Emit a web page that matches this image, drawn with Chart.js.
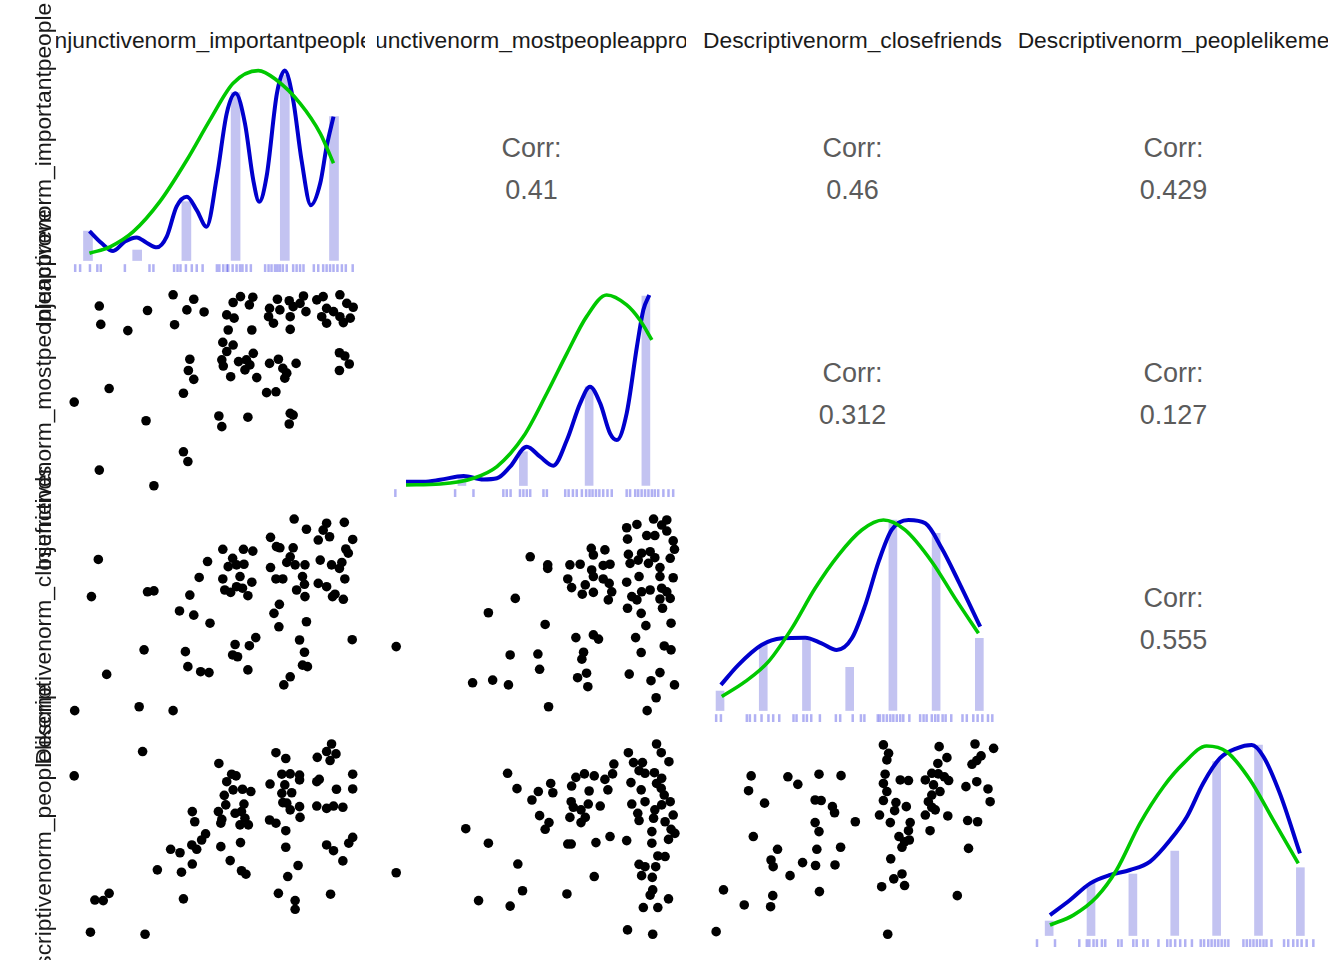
<!DOCTYPE html>
<html>
<head>
<meta charset="utf-8">
<script src="https://cdn.jsdelivr.net/npm/chart.js@4.4.0/dist/chart.umd.min.js"></script>
<style>
  html, body { margin: 0; padding: 0; background: #fff; }
  #wrap { position: relative; width: 1344px; height: 960px; overflow: hidden;
          font-family: "Liberation Sans", Arial, sans-serif; }
  #wrap canvas { position: absolute; }
  .strip { position: absolute; top: 26px; height: 28px; overflow: hidden; }
  .strip span { position: absolute; left: 50%; top: 0; transform: translateX(-50%);
                white-space: nowrap; font-size: 22.8px; line-height: 28px; color: #1a1a1a; }
  .rowlab { position: absolute; width: 500px; height: 28px; line-height: 28px; text-align: center;
            white-space: nowrap; font-size: 22.8px; color: #1a1a1a; transform: rotate(-90deg); }
  .corr { position: absolute; width: 200px; text-align: center; font-size: 27px; line-height: 30px; color: #5b5b5b; }
</style>
</head>
<body>
<div id="wrap"></div>
<script>
// variable names (strip labels)
const varNames = [
  'Injunctivenorm_importantpeople',
  'Injunctivenorm_mostpeopleapprove',
  'Descriptivenorm_closefriends',
  'Descriptivenorm_peoplelikeme'
];

// correlations in the upper triangle: [row, col, text]
const corrCells = [[0, 1, '0.41'], [0, 2, '0.46'], [0, 3, '0.429'],
                   [1, 2, '0.312'], [1, 3, '0.127'], [2, 3, '0.555']];

// scale limits of each variable (jittered values, with padding)
const varMin = [0.35, 0.34, 0.49, 0.28];
const varMax = [6.63, 7.58, 7.64, 7.66];

// histogram bars on the diagonal (bin centre, relative height)
const bars1X = [1, 2, 3, 4, 5, 6];
const bars1Y = [15.4, 5.5, 30.8, 87.9, 97, 75.3];
const bars2X = [2.33, 3.77, 5.31, 6.64];
const bars2Y = [5, 17.7, 51.7, 99.2];
const bars3X = [1, 2, 3, 4, 5, 6, 7];
const bars3Y = [10.2, 34.6, 36.9, 22.6, 99.7, 92.8, 37.8];
const bars4X = [1, 2, 3, 4, 5, 6, 7];
const bars4Y = [7.6, 27.3, 32.2, 44.2, 91, 99.7, 35.5];

// blue density (narrow bandwidth)
const blue1X = [1.03, 1.28, 1.51, 1.75, 1.99, 2.19, 2.40, 2.60, 2.80, 3.01, 3.21, 3.41, 3.62, 3.82, 4.0, 4.19, 4.36, 4.48, 4.63, 4.84, 5.0, 5.17, 5.34, 5.53, 5.72, 5.85, 5.99];
const blue1Y = [15.4, 9.0, 5.0, 9.9, 12.1, 9.3, 6.9, 12.5, 28.2, 33.4, 26.4, 17.7, 43.9, 77, 87.5, 71.8, 42, 30.8, 44, 87.5, 99.4, 84, 52.6, 29, 40.4, 59.6, 75.3];
const blue2X = [1.02, 1.43, 1.82, 2.37, 2.83, 3.15, 3.46, 3.85, 4.16, 4.47, 4.79, 5.10, 5.33, 5.57, 5.80, 5.96, 6.19, 6.43, 6.58, 6.72];
const blue2Y = [2, 2, 3, 5, 3.2, 3.8, 9.9, 20.3, 15.1, 10.4, 23.8, 43, 51.7, 43, 27.3, 23.8, 37.8, 72.7, 91.9, 99.7];
const blue3X = [1.02, 1.42, 1.96, 2.43, 2.97, 3.35, 3.70, 4.05, 4.36, 4.67, 4.97, 5.36, 5.75, 6.13, 6.52, 7.02];
const blue3Y = [13.4, 23.8, 34.3, 37.8, 38.1, 35.2, 31.7, 37.8, 55.2, 77.9, 94.5, 99.7, 98, 84.9, 67.5, 43.9];
const blue4X = [1.02, 1.50, 1.98, 2.46, 2.93, 3.41, 3.89, 4.29, 4.68, 5.08, 5.48, 5.84, 6.12, 6.51, 6.99];
const blue4Y = [10.7, 18.6, 27.3, 31.7, 34.3, 38.7, 50, 62.2, 79.7, 92.8, 98, 99.7, 93.6, 74.4, 43];

// green density (smooth)
const green1X = [1.03, 1.45, 1.92, 2.46, 3.01, 3.48, 3.95, 4.46, 4.83, 5.31, 5.72, 5.99];
const green1Y = [3.8, 7.2, 15.1, 30.8, 52.6, 73.6, 92.8, 99.4, 94.5, 82.3, 66.6, 50.9];
const green2X = [1.02, 1.82, 2.60, 3.15, 3.77, 4.32, 4.79, 5.25, 5.72, 6.19, 6.50, 6.78];
const green2Y = [0.3, 0.8, 3.8, 9.9, 25.6, 48.3, 69.2, 88.4, 99.7, 94.5, 86.6, 76.2];
const green3X = [1.04, 1.58, 2.12, 2.66, 3.20, 3.74, 4.28, 4.78, 5.28, 5.90, 6.44, 6.98];
const green3Y = [7.3, 15.1, 25.6, 43, 64, 81.4, 94.5, 99.7, 94.5, 77.9, 58.7, 40.4];
const green4X = [1.02, 1.58, 2.14, 2.61, 3.17, 3.73, 4.21, 4.76, 5.24, 5.80, 6.35, 6.95];
const green4Y = [5.5, 10.7, 20.3, 34.3, 58.7, 77.9, 90.1, 99.2, 96.2, 81.4, 60.5, 37.8];

// rug marks under each density
const rug1 = [0.74, 0.84, 1.04, 1.19, 1.26, 1.75, 2.25, 2.33, 2.75, 2.82, 2.88, 2.99, 3.11, 3.21, 3.33, 3.62, 3.67, 3.75, 3.82, 3.85, 3.94, 4.02, 4.09, 4.14, 4.22, 4.31, 4.60, 4.67, 4.73, 4.80, 4.85, 4.90, 4.96, 5.04, 5.17, 5.24, 5.31, 5.38, 5.59, 5.68, 5.78, 5.85, 5.92, 5.99, 6.07, 6.16, 6.24, 6.38];
const rug2 = [0.77, 2.17, 2.60, 3.30, 3.38, 3.47, 3.69, 3.77, 3.85, 3.93, 4.24, 4.32, 4.75, 4.83, 4.93, 5.02, 5.14, 5.24, 5.32, 5.39, 5.47, 5.55, 5.64, 5.74, 5.84, 6.19, 6.27, 6.39, 6.46, 6.54, 6.62, 6.70, 6.78, 6.85, 6.93, 7.05, 7.17, 7.28];
const rug3 = [0.91, 1.02, 1.62, 1.69, 1.81, 1.96, 2.12, 2.23, 2.37, 2.70, 2.77, 2.93, 3.01, 3.11, 3.31, 3.68, 3.78, 4.07, 4.26, 4.34, 4.65, 4.70, 4.78, 4.86, 4.94, 5.01, 5.09, 5.17, 5.24, 5.38, 5.63, 5.71, 5.78, 5.90, 5.98, 6.05, 6.15, 6.22, 6.35, 6.61, 6.71, 6.86, 6.96, 7.07, 7.20, 7.30];
const rug4 = [0.71, 1.14, 1.72, 1.90, 1.96, 2.06, 2.14, 2.26, 2.34, 2.65, 2.73, 3.01, 3.09, 3.25, 3.35, 3.61, 3.82, 3.90, 4.01, 4.13, 4.25, 4.41, 4.62, 4.70, 4.80, 4.88, 4.96, 5.04, 5.12, 5.20, 5.28, 5.64, 5.72, 5.80, 5.88, 5.96, 6.04, 6.12, 6.19, 6.31, 6.61, 6.71, 6.83, 6.93, 7.03, 7.15, 7.31];

// jittered scatter points [x, y], named by row and column
const pts21 = [[2.73,7.18],[3.15,7.03],[1.23,6.80],[2.21,6.65],[3.01,6.67],[3.36,6.60],[1.26,6.18],[1.81,5.97],[2.76,6.17],
  [3.95,6.92],[4.10,7.12],[4.35,7.10],[4.28,6.84],[3.82,6.50],[3.97,6.39],[3.85,5.99],[4.33,5.99],
  [4.85,7.03],[5.09,6.98],[5.38,7.14],[4.69,6.72],[4.90,6.67],[5.17,6.78],[5.43,6.61],[4.77,6.22],[5.11,6.44],[5.31,6.89],[5.11,6.01],[4.67,6.44],
  [5.65,7.01],[5.78,7.12],[6.12,7.18],[5.85,6.72],[6.26,6.89],[6.39,6.76],[5.75,6.44],[5.85,6.22],[6.12,6.44],[6.33,6.39],[6.19,6.24],[5.99,6.61],
  [3.74,5.57],[3.95,5.48],[3.82,5.26],[3.72,4.98],[3.75,4.77],[4.06,4.92],[4.22,4.98],[4.36,5.20],[4.19,4.64],[4.29,4.81],[3.90,4.41],[4.43,4.38],
  [4.69,4.86],[4.87,5.00],[4.96,4.69],[5.04,4.53],[5.23,4.86],[5.00,4.36],
  [6.11,5.22],[6.22,5.11],[6.31,4.84],[6.11,4.62],
  [3.07,5.00],[3.04,4.62],[3.15,4.32],[2.94,3.85],[4.63,3.87],[4.82,3.90],[1.43,4.01],[0.72,3.55],[2.18,2.92],
  [3.66,3.08],[3.72,2.72],[4.25,3.04],[5.11,3.17],[5.17,3.11],[5.09,2.81],[2.94,1.87],[3.03,1.54],[1.23,1.25],[2.34,0.72]];

const pts31 = [[5.19,7.27],[5.44,6.93],[5.85,7.13],[6.21,7.16],[5.78,6.90],[5.91,6.68],[5.68,6.57],[6.38,6.59],[4.71,6.66],
  [4.83,6.35],[4.90,6.31],[5.17,6.31],[6.24,6.27],[6.29,6.13],[3.74,6.26],[4.16,6.26],[4.35,6.20],[1.21,5.92],
  [3.43,5.85],[3.94,5.96],[3.85,5.68],[4.02,5.74],[4.17,5.76],[4.71,5.65],[5.11,6.01],[5.04,5.82],[5.21,5.74],
  [5.41,5.74],[5.72,5.90],[5.95,5.74],[6.16,5.82],[6.11,5.62],[3.26,5.32],[3.74,5.27],[4.09,5.35],[4.33,5.16],
  [4.82,5.27],[4.96,5.27],[5.36,5.35],[5.40,5.09],[5.24,4.90],[5.68,5.12],[5.85,5.01],[6.22,5.27],[1.07,4.68],
  [2.21,4.84],[2.34,4.87],[3.07,4.73],[3.78,4.90],[3.90,4.82],[4.02,5.01],[4.14,4.96],[4.25,4.71],[5.41,4.68],
  [6.02,4.76],[6.19,4.59],[5.97,4.68],[2.86,4.20],[3.15,4.06],[3.48,3.79],[4.89,4.42],[4.78,4.12],[4.88,3.67],
  [5.44,3.84],[2.14,2.90],[2.98,2.84],[3.99,3.08],[4.28,3.04],[4.41,3.31],[3.94,2.73],[4.04,2.67],[5.30,3.23],
  [5.40,2.82],[6.37,3.24],[3.03,2.34],[3.29,2.17],[3.46,2.14],[4.25,2.23],[5.36,2.39],[5.46,2.34],[5.11,2.00],
  [4.98,1.73],[1.38,2.08],[0.73,0.87],[2.04,1.00],[2.73,0.87]];

const pts32 = [[6.82,7.27],[7.13,7.24],[7.01,7.07],[7.13,6.87],[6.19,6.98],[6.43,7.09],[6.21,6.60],[6.66,6.72],[6.85,6.72],
  [7.28,6.54],[7.31,6.26],[5.36,6.29],[5.41,6.07],[5.68,6.24],[3.93,6.01],[4.34,5.74],[4.34,5.62],[4.86,5.74],
  [5.10,5.76],[5.37,5.57],[5.64,5.72],[5.80,5.76],[6.23,6.09],[6.54,6.13],[6.74,6.18],[6.27,5.79],[6.46,5.90],
  [6.70,5.79],[6.85,5.98],[7.21,5.96],[6.97,5.65],[4.81,5.27],[4.90,4.98],[5.22,5.07],[5.41,5.35],[5.64,5.27],
  [5.78,5.12],[5.84,4.84],[5.41,4.82],[5.15,4.76],[5.76,4.57],[6.19,5.16],[6.48,5.35],[6.97,5.35],[7.28,5.31],
  [6.74,4.90],[6.54,4.84],[6.31,4.68],[6.43,4.57],[6.21,4.29],[7.01,4.96],[7.13,4.84],[7.21,4.62],[6.97,4.60],
  [3.58,4.62],[2.95,4.14],[4.28,3.75],[7.03,4.29],[6.53,4.12],[6.64,3.71],[7.23,3.79],[0.79,3.01],[5.00,3.31],
  [5.41,3.40],[5.53,3.26],[6.40,3.31],[3.46,2.73],[4.11,2.76],[5.18,2.82],[5.14,2.59],[6.53,2.81],[7.07,3.03],
  [7.23,2.90],[4.15,2.25],[2.58,1.80],[3.05,1.89],[3.42,1.73],[5.04,1.97],[5.25,2.12],[5.28,1.67],[6.25,2.09],
  [6.76,1.87],[6.97,2.14],[7.31,1.73],[6.88,1.30],[4.36,1.00],[6.67,0.87]];

const pts41 = [[2.11,7.02],[0.72,6.18],[4.82,6.98],[5.02,6.78],[5.95,7.28],[5.85,7.02],[6.04,6.94],[5.66,6.82],[5.92,6.71],
  [3.66,6.61],[3.92,6.24],[4.01,6.18],[3.82,5.98],[4.94,6.24],[5.11,6.25],[5.30,6.21],[5.30,6.04],[4.70,5.90],
  [5.00,5.87],[5.70,6.06],[5.65,5.98],[6.38,6.24],[6.38,5.73],[6.05,5.72],[3.95,5.70],[4.14,5.72],[4.31,5.64],
  [3.77,5.51],[3.80,5.18],[4.17,5.21],[4.94,5.58],[5.14,5.60],[4.96,5.26],[5.11,5.01],[5.30,5.12],[5.04,5.24],
  [5.65,5.14],[5.85,5.06],[5.99,5.14],[6.18,5.10],[5.31,4.75],[3.12,4.95],[3.17,4.60],[3.65,4.95],[3.72,4.68],
  [3.70,4.55],[3.99,4.89],[4.12,4.95],[4.19,4.72],[4.09,4.49],[4.26,4.49],[4.69,4.66],[4.82,4.55],[5.02,4.29],
  [3.39,4.18],[3.31,3.97],[3.11,3.80],[3.21,3.65],[2.68,3.65],[2.87,3.53],[3.70,3.74],[4.10,3.88],[5.02,3.72],
  [5.85,3.80],[5.99,3.60],[6.38,4.06],[6.30,3.86],[6.18,3.25],[2.41,2.94],[2.90,2.86],[3.12,3.14],[3.89,3.26],
  [4.12,2.91],[4.21,2.79],[5.27,3.09],[5.06,2.71],[1.43,2.13],[1.14,1.90],[1.31,1.88],[2.94,1.94],[4.87,2.13],
  [5.21,1.88],[5.21,1.58],[5.93,2.10],[1.05,0.79],[2.16,0.72]];

const pts42 = [[6.89,7.28],[7.00,6.98],[7.18,6.67],[6.23,6.98],[5.89,6.59],[6.35,6.64],[6.56,6.64],[6.48,6.36],[6.62,6.27],
  [6.84,6.29],[7.01,6.10],[6.89,5.92],[5.86,6.25],[5.68,6.06],[5.43,6.18],[5.20,6.25],[5.00,6.13],[4.90,5.83],
  [5.75,5.70],[5.31,5.66],[4.41,5.92],[4.46,5.60],[4.12,5.64],[3.62,5.74],[3.40,6.27],[3.97,5.35],[6.29,5.95],
  [6.53,5.70],[7.00,5.75],[7.07,5.52],[6.62,5.29],[6.31,5.21],[6.85,5.01],[7.01,5.18],[7.21,5.29],[4.89,5.29],
  [4.94,5.10],[5.29,5.21],[5.57,5.14],[5.12,5.01],[4.86,4.75],[5.22,4.75],[5.12,4.57],[4.15,4.81],[4.37,4.57],
  [4.28,4.34],[6.45,4.89],[6.48,4.64],[6.82,4.72],[7.09,4.60],[7.28,4.83],[7.23,4.34],[7.32,4.20],[7.17,3.99],
  [6.78,4.26],[6.78,3.86],[2.42,4.36],[2.95,3.86],[4.81,3.83],[4.89,3.83],[5.47,3.88],[5.80,4.09],[6.19,3.95],
  [3.64,3.14],[0.79,2.84],[6.92,3.42],[7.09,3.40],[6.48,3.13],[6.62,3.05],[6.87,3.05],[6.54,2.74],[6.79,2.68],
  [5.43,2.71],[3.75,2.22],[4.79,2.11],[6.80,2.25],[6.74,2.07],[7.17,1.94],[2.72,1.88],[3.46,1.69],[6.58,1.64],
  [6.92,1.64],[6.21,0.87],[6.80,0.72]];

const pts43 = [[4.78,7.25],[4.90,6.96],[4.86,6.73],[6.07,7.19],[6.25,6.81],[6.04,6.61],[6.90,7.28],[7.33,7.13],[7.04,6.87],
  [6.94,6.71],[6.83,6.58],[1.72,6.18],[2.57,6.15],[3.29,6.24],[3.80,6.19],[2.80,5.89],[1.66,5.67],[2.03,5.24],
  [3.20,5.35],[3.34,5.33],[3.60,5.12],[3.65,4.91],[4.82,6.24],[4.78,5.92],[5.17,6.04],[5.36,6.02],[4.86,5.64],
  [4.78,5.33],[5.75,6.04],[5.90,6.27],[6.05,6.25],[6.19,6.15],[6.29,6.02],[5.94,5.87],[6.09,5.64],[5.90,5.52],
  [5.82,5.29],[5.90,5.10],[5.98,5.01],[5.75,4.83],[6.27,4.80],[5.07,5.26],[5.04,4.98],[5.31,5.12],[4.69,4.83],
  [4.94,4.57],[5.40,4.57],[5.36,4.29],[5.14,4.09],[5.27,3.91],[5.38,3.97],[5.21,3.72],[5.86,4.29],[6.69,5.81],
  [6.94,5.98],[7.20,5.73],[7.25,5.29],[6.73,4.64],[6.96,4.60],[6.75,3.68],[3.20,4.57],[3.29,4.26],[4.13,4.60],
  [1.77,4.09],[2.33,3.65],[2.18,3.28],[2.23,3.05],[2.91,3.19],[3.24,3.65],[3.21,3.09],[3.79,3.72],[3.66,3.11],
  [2.62,2.74],[4.95,3.32],[5.02,2.63],[5.21,2.80],[4.74,2.36],[5.27,2.40],[1.08,2.25],[1.56,1.73],[2.22,2.05],
  [2.17,1.67],[3.30,2.19],[6.49,2.05],[0.91,0.81],[4.88,0.72]];

// panel placement
const colLeft = [56, 377, 698, 1019];
const rowTop = [58, 283, 508, 733];
const panelW = 309, panelH = 214;

const wrap = document.getElementById('wrap');

function newCanvas(r, c) {
  const cv = document.createElement('canvas');
  cv.width = panelW;
  cv.height = panelH;
  cv.style.left = colLeft[c] + 'px';
  cv.style.top = rowTop[r] + 'px';
  wrap.appendChild(cv);
  return cv.getContext('2d');
}

function baseOptions(xmin, xmax, ymin, ymax) {
  return {
    responsive: false,
    animation: false,
    events: [],
    // no auto padding, the panel is the plot area
    layout: { padding: 0, autoPadding: false },
    plugins: { legend: { display: false }, tooltip: { enabled: false } },
    scales: {
      x: { type: 'linear', display: false, min: xmin, max: xmax, offset: false },
      y: { type: 'linear', display: false, min: ymin, max: ymax }
    }
  };
}

function toXY(xs, ys) {
  return xs.map((x, i) => ({ x: x, y: ys[i] }));
}

// diagonal: histogram + two densities + rug
const diag = [
  { bx: bars1X, by: bars1Y, blx: blue1X, bly: blue1Y, gx: green1X, gy: green1Y, rug: rug1, bw: 9 },
  { bx: bars2X, by: bars2Y, blx: blue2X, bly: blue2Y, gx: green2X, gy: green2Y, rug: rug2, bw: 8 },
  { bx: bars3X, by: bars3Y, blx: blue3X, bly: blue3Y, gx: green3X, gy: green3Y, rug: rug3, bw: 8 },
  { bx: bars4X, by: bars4Y, blx: blue4X, bly: blue4Y, gx: green4X, gy: green4Y, rug: rug4, bw: 8 }
];

diag.forEach((d, i) => {
  const ctx = newCanvas(i, i);
  new Chart(ctx, {
    type: 'bar',
    data: {
      datasets: [
        {
          type: 'line', data: toXY(d.gx, d.gy), borderColor: '#00c800', borderWidth: 3.6,
          pointRadius: 0, cubicInterpolationMode: 'monotone', fill: false, order: 0, clip: false
        },
        {
          type: 'line', data: toXY(d.blx, d.bly), borderColor: '#0000cd', borderWidth: 4,
          pointRadius: 0, cubicInterpolationMode: 'monotone', fill: false, order: 1, clip: false
        },
        {
          type: 'bar', data: toXY(d.bx, d.by), backgroundColor: '#c3c3f1',
          barThickness: d.bw, grouped: false, order: 2
        },
        {
          type: 'scatter', data: d.rug.map(v => ({ x: v, y: -4 })), pointStyle: 'line', rotation: 90,
          pointRadius: 4, borderColor: 'rgba(60,60,225,0.4)', borderWidth: 2.5, order: 3, clip: false
        }
      ]
    },
    options: baseOptions(varMin[i], varMax[i], -6, 106)
  });
});

// lower triangle: jittered scatter plots
const scatterCells = [[1, 0, pts21], [2, 0, pts31], [2, 1, pts32], [3, 0, pts41], [3, 1, pts42], [3, 2, pts43]];
scatterCells.forEach(([r, c, pts]) => {
  const ctx = newCanvas(r, c);
  new Chart(ctx, {
    type: 'scatter',
    data: {
      datasets: [{
        data: pts.map(p => ({ x: p[0], y: p[1] })),
        pointRadius: 4.8, pointBackgroundColor: '#000', pointBorderWidth: 0, clip: false
      }]
    },
    options: baseOptions(varMin[c], varMax[c], varMin[r], varMax[r])
  });
});

// upper triangle: correlation text
corrCells.forEach(([r, c, val]) => {
  const cx = colLeft[c] + panelW / 2, cy = rowTop[r] + panelH / 2;
  const a = document.createElement('div');
  a.className = 'corr';
  a.textContent = 'Corr:';
  a.style.left = (cx - 100) + 'px';
  a.style.top = (cy - 17 - 15) + 'px';
  wrap.appendChild(a);
  const b = document.createElement('div');
  b.className = 'corr';
  b.textContent = val;
  b.style.left = (cx - 100) + 'px';
  b.style.top = (cy + 25 - 15) + 'px';
  wrap.appendChild(b);
});

// top strips (clipped to column width)
varNames.forEach((name, c) => {
  const s = document.createElement('div');
  s.className = 'strip';
  s.style.left = colLeft[c] + 'px';
  s.style.width = panelW + 'px';
  const sp = document.createElement('span');
  sp.textContent = name;
  s.appendChild(sp);
  wrap.appendChild(s);
});

// left strips (rotated, not clipped)
varNames.forEach((name, r) => {
  const l = document.createElement('div');
  l.className = 'rowlab';
  l.textContent = name;
  l.style.left = (43 - 250) + 'px';
  l.style.top = (rowTop[r] + panelH / 2 - 14) + 'px';
  wrap.appendChild(l);
});
</script>
</body>
</html>
